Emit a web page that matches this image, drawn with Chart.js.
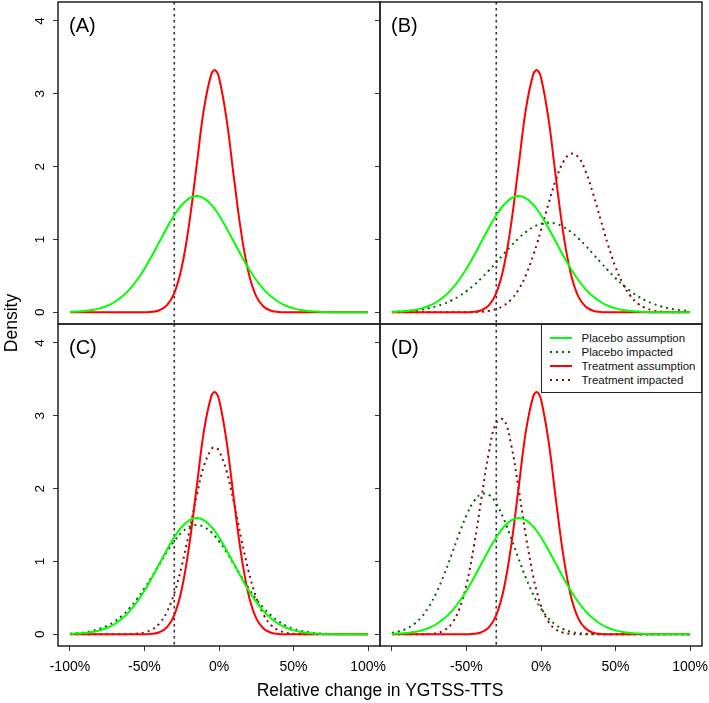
<!DOCTYPE html>
<html>
<head>
<meta charset="utf-8">
<script src="https://cdn.jsdelivr.net/npm/chart.js@4.4.0/dist/chart.umd.min.js"></script>
<style>
  body { margin: 0; background: #fff; font-family: "Liberation Sans", Arial, sans-serif; }
  #wrap { position: relative; width: 709px; height: 703px; overflow: hidden; }
  #wrap canvas { position: absolute; left: 0; top: 0; }
  .title { position: absolute; color: #000; font-size: 17.5px; line-height: 20px; white-space: nowrap; text-align: center; }
  #xtitle { left: 0; width: 760px; top: 680px; }
  #ytitle { left: -39px; top: 313px; width: 100px; transform: rotate(-90deg); }
  #legend { position: absolute; left: 541px; top: 324px; width: 161px; height: 69px; box-sizing: border-box;
            border: 1.5px solid #222; background: #fff; padding-top: 5.5px; font-size: 11.5px; color: #111; }
  #legend .row { height: 14px; line-height: 14px; white-space: nowrap; }
  #legend .key { display: inline-block; width: 22px; height: 2px; margin: 0 10px 0 7.5px; vertical-align: middle; }
</style>
</head>
<body>
<div id="wrap">
  <canvas id="panelA" width="709" height="703"></canvas>
  <canvas id="panelB" width="709" height="703"></canvas>
  <canvas id="panelC" width="709" height="703"></canvas>
  <canvas id="panelD" width="709" height="703"></canvas>
  <div class="title" id="xtitle">Relative change in YGTSS-TTS</div>
  <div class="title" id="ytitle">Density</div>
  <div id="legend"></div>
</div>
<script>
const xValues = [-100, -95, -90, -85, -80, -75, -70, -65, -60, -55, -50, -45, -40, -35, -30, -25, -20, -15, -10, -5, -2.5,
  0, 5, 10, 15, 20, 25, 30, 35, 40, 45, 50, 55, 60, 65, 70, 75, 80, 85, 90, 95, 100];

// same in every panel
const placeboAssumption = [0.005, 0.010, 0.018, 0.032, 0.054, 0.090, 0.142, 0.216, 0.316, 0.444, 0.599, 0.777, 0.968, 1.159, 1.333, 1.473, 1.564, 1.596, 1.564, 1.473, 1.408,
  1.333, 1.159, 0.968, 0.777, 0.599, 0.444, 0.316, 0.216, 0.142, 0.090, 0.054, 0.032, 0.018, 0.010, 0.005, 0.002, 0.001, 0, 0, 0, 0];
const treatmentAssumption = [0, 0, 0, 0, 0, 0, 0, 0, 0, 0, 0.002, 0.007, 0.029, 0.095, 0.265, 0.619, 1.219, 2.017, 2.806, 3.280, 3.323,
  3.224, 2.663, 1.850, 1.080, 0.530, 0.219, 0.076, 0.022, 0.005, 0.001, 0, 0, 0, 0, 0, 0, 0, 0, 0, 0, 0];

// (B)
const bPlaceboImpacted = [0.006, 0.011, 0.017, 0.026, 0.039, 0.058, 0.084, 0.119, 0.164, 0.221, 0.291, 0.374, 0.469, 0.574, 0.686, 0.801, 0.913, 1.017, 1.105, 1.173, 1.198,
  1.215, 1.230, 1.215, 1.173, 1.105, 1.017, 0.913, 0.801, 0.686, 0.574, 0.469, 0.374, 0.291, 0.221, 0.164, 0.119, 0.084, 0.058, 0.039, 0.026, 0.017];
const bTreatmentImpacted = [0, 0, 0, 0, 0, 0, 0, 0, 0, 0, 0.001, 0.003, 0.008, 0.020, 0.045, 0.093, 0.177, 0.315, 0.519, 0.795, 0.956,
  1.129, 1.488, 1.820, 2.066, 2.177, 2.129, 1.932, 1.627, 1.272, 0.923, 0.621, 0.388, 0.225, 0.121, 0.061, 0.028, 0.012, 0.005, 0.002, 0.001, 0];

// (C)
const cPlaceboImpacted = [0.009, 0.016, 0.028, 0.047, 0.076, 0.118, 0.177, 0.256, 0.359, 0.484, 0.631, 0.794, 0.964, 1.131, 1.280, 1.398, 1.474, 1.500, 1.474, 1.398, 1.343,
  1.280, 1.131, 0.964, 0.794, 0.631, 0.484, 0.359, 0.256, 0.177, 0.118, 0.076, 0.047, 0.028, 0.016, 0.009, 0.005, 0.003, 0.001, 0.001, 0, 0];
const cTreatmentImpacted = [0, 0, 0, 0, 0, 0, 0, 0.001, 0.003, 0.009, 0.026, 0.065, 0.149, 0.305, 0.563, 0.937, 1.406, 1.902, 2.317, 2.545, 2.565,
  2.518, 2.246, 1.805, 1.308, 0.853, 0.502, 0.266, 0.127, 0.055, 0.021, 0.007, 0.002, 0.001, 0, 0, 0, 0, 0, 0, 0, 0];

// (D)
const dPlaceboImpacted = [0.021, 0.042, 0.080, 0.143, 0.242, 0.385, 0.579, 0.819, 1.093, 1.376, 1.632, 1.826, 1.925, 1.914, 1.794, 1.585, 1.320, 1.037, 0.768, 0.536, 0.438,
  0.353, 0.219, 0.128, 0.071, 0.037, 0.018, 0.008, 0.004, 0.002, 0.001, 0, 0, 0, 0, 0, 0, 0, 0, 0, 0, 0];
const dTreatmentImpacted = [0, 0, 0, 0, 0.001, 0.005, 0.017, 0.054, 0.144, 0.336, 0.683, 1.209, 1.861, 2.494, 2.906, 2.947, 2.600, 1.996, 1.333, 0.774, 0.560,
  0.391, 0.172, 0.066, 0.022, 0.006, 0.002, 0, 0, 0, 0, 0, 0, 0, 0, 0, 0, 0, 0, 0, 0, 0];

const xTicks = [-100, -50, 0, 50, 100];
const yTicks = [0, 1, 2, 3, 4];
const cutoff = -30;   // dotted vertical line

const seriesNames = ['Placebo assumption', 'Placebo impacted', 'Treatment assumption', 'Treatment impacted'];
const seriesColors = ['#00ff00', '#006400', '#ff0000', '#8b0000'];
const seriesDotted = [false, true, false, true];

Chart.defaults.font.family = '"Liberation Sans", Arial, sans-serif';
Chart.defaults.color = '#000';

function line(idx, values) {
  return {
    label: seriesNames[idx],
    data: xValues.map((x, i) => ({ x: x, y: values[i] })),
    borderColor: seriesColors[idx],
    borderWidth: 2,
    borderDash: seriesDotted[idx] ? [2, 4] : [],
    pointRadius: 0,
    tension: 0.4,
    fill: false
  };
}

const panelDeco = {
  id: 'panelDeco',
  beforeDatasetsDraw(chart, args, opts) {
    const { ctx, chartArea: a } = chart;
    const px = chart.scales.x.getPixelForValue(cutoff);
    ctx.save();
    ctx.strokeStyle = '#333';
    ctx.lineWidth = 1.6;
    ctx.setLineDash([2.5, 3.5]);
    ctx.beginPath();
    ctx.moveTo(px, a.top);
    ctx.lineTo(px, a.bottom);
    ctx.stroke();
    ctx.restore();
  },
  afterDraw(chart, args, opts) {
    const { ctx, chartArea: a } = chart;
    ctx.save();
    ctx.strokeStyle = '#222';
    ctx.lineWidth = 1.5;
    ctx.strokeRect(a.left, a.top, a.right - a.left, a.bottom - a.top);
    ctx.fillStyle = '#000';
    ctx.font = '20px "Liberation Sans", Arial, sans-serif';
    ctx.textBaseline = 'middle';
    ctx.fillText(opts.label, a.left + 11, a.top + 24);
    ctx.restore();
  }
};

function noPad(scale) {
  scale.paddingLeft = 0; scale.paddingRight = 0; scale.paddingTop = 0; scale.paddingBottom = 0;
}

function makePanel(id, label, datasets, pad, showY, showX, skipFirstX) {
  new Chart(document.getElementById(id), {
    type: 'line',
    data: { datasets: datasets },
    options: {
      responsive: false,
      animation: false,
      events: [],
      layout: { padding: pad },
      plugins: { legend: { display: false }, tooltip: { enabled: false }, panelDeco: { label: label } },
      scales: {
        x: {
          type: 'linear',
          min: -108, max: 108,
          display: showX,
          afterBuildTicks: s => { s.ticks = xTicks.map(v => ({ value: v })); },
          afterFit: s => { s.height = showX ? 57 : 0; noPad(s); },
          grid: { drawOnChartArea: false, drawTicks: true, tickLength: 5, color: '#333', lineWidth: 1 },
          border: { display: false },
          ticks: {
            font: { size: 14 }, padding: 8, minRotation: 0, maxRotation: 0,
            callback: v => (skipFirstX && v === xTicks[0]) ? '' : v + '%'
          }
        },
        y: {
          type: 'linear',
          min: -0.16, max: 4.26,
          afterBuildTicks: s => { s.ticks = yTicks.map(v => ({ value: v })); },
          afterFit: s => { s.width = showY ? 58 : 5; noPad(s); },
          grid: { drawOnChartArea: false, drawTicks: true, tickLength: 5, color: '#333', lineWidth: 1 },
          border: { display: false },
          ticks: { display: showY, font: { size: 13.5 }, padding: 9, minRotation: 90, maxRotation: 90, crossAlign: 'center' }
        }
      }
    },
    plugins: [panelDeco]
  });
}

makePanel('panelA', '(A)', [line(0, placeboAssumption), line(2, treatmentAssumption)],
  { left: 0, top: 2, right: 329, bottom: 379 }, true, false, false);
makePanel('panelB', '(B)', [line(0, placeboAssumption), line(2, treatmentAssumption), line(1, bPlaceboImpacted), line(3, bTreatmentImpacted)],
  { left: 375, top: 2, right: 7, bottom: 379 }, false, false, false);
makePanel('panelC', '(C)', [line(0, placeboAssumption), line(2, treatmentAssumption), line(1, cPlaceboImpacted), line(3, cTreatmentImpacted)],
  { left: 0, top: 324, right: 329, bottom: 0 }, true, true, false);
makePanel('panelD', '(D)', [line(0, placeboAssumption), line(2, treatmentAssumption), line(1, dPlaceboImpacted), line(3, dTreatmentImpacted)],
  { left: 375, top: 324, right: 7, bottom: 0 }, false, true, true);

// legend inside panel D
const legend = document.getElementById('legend');
seriesNames.forEach((name, i) => {
  const row = document.createElement('div');
  row.className = 'row';
  const key = document.createElement('span');
  key.className = 'key';
  key.style.background = seriesDotted[i]
    ? 'repeating-linear-gradient(90deg, ' + seriesColors[i] + ' 0 2px, transparent 2px 6px)'
    : seriesColors[i];
  row.appendChild(key);
  row.appendChild(document.createTextNode(name));
  legend.appendChild(row);
});
</script>
</body>
</html>
